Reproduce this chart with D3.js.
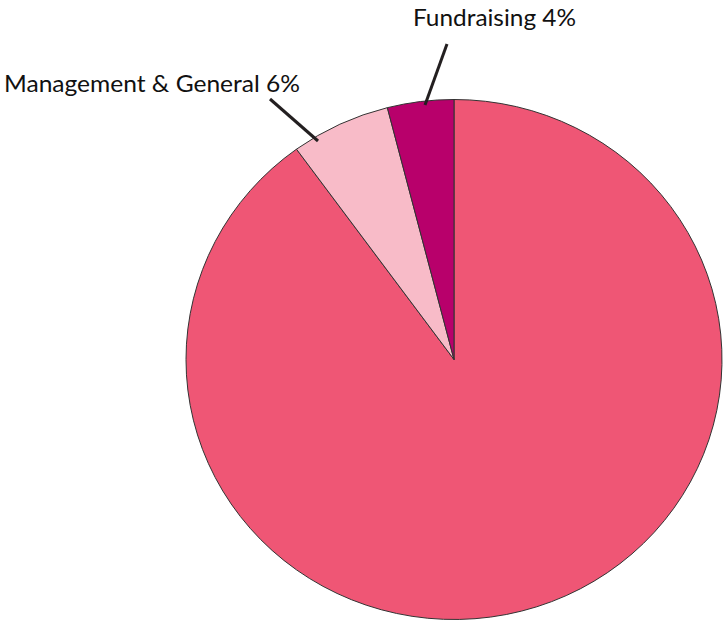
<!DOCTYPE html>
<html>
<head>
<meta charset="utf-8">
<script src="https://cdn.jsdelivr.net/npm/d3@7"></script>
<style>
  html, body { margin: 0; padding: 0; background: #fff; }
  .slice-label { font-family: Lato, "Open Sans", sans-serif; font-size: 24px; fill: #111; }
</style>
</head>
<body>
<svg id="chart" width="726" height="622"></svg>
<script>
// Expense breakdown (clockwise from 12 o'clock)
const categories = ["Program Services", "Management & General", "Fundraising"];
const shares = [90, 6, 4];
const labels = ["", "Management & General 6%", "Fundraising 4%"];
const colors = ["#ef5675", "#f8bbc8", "#b8006b"];

const svg = d3.select("#chart");
const cx = 454, cy = 359.5;
const ry = 260, rx = 268;

const data = categories.map((c, i) => ({ name: c, value: shares[i], label: labels[i], color: colors[i] }));

const pie = d3.pie().sort(null).value(d => d.value);
const arcs = pie(data);

const arc = d3.arc().innerRadius(0).outerRadius(ry);

// pie is drawn slightly wider than tall, like the original
const g = svg.append("g")
  .attr("transform", `translate(${cx},${cy}) scale(${rx / ry},1)`);

g.selectAll("path")
  .data(arcs)
  .join("path")
  .attr("d", arc)
  .attr("fill", d => d.data.color)
  .attr("stroke", "#333")
  .attr("stroke-width", 1)
  .attr("vector-effect", "non-scaling-stroke");

// Leader lines + labels for the small slices
const callouts = [
  { name: "Management & General", from: [270, 99], to: [318, 141], tx: 4, ty: 92, w: 296 },
  { name: "Fundraising", from: [447, 44], to: [425, 105], tx: 413, ty: 26, w: 163 }
];

svg.append("g")
  .selectAll("line")
  .data(callouts)
  .join("line")
  .attr("x1", d => d.from[0]).attr("y1", d => d.from[1])
  .attr("x2", d => d.to[0]).attr("y2", d => d.to[1])
  .attr("stroke", "#231f20")
  .attr("stroke-width", 3);

svg.append("g")
  .selectAll("text")
  .data(callouts)
  .join("text")
  .attr("class", "slice-label")
  .attr("x", d => d.tx)
  .attr("y", d => d.ty)
  .attr("textLength", d => d.w)
  .attr("lengthAdjust", "spacingAndGlyphs")
  .text(d => data.find(e => e.name === d.name).label);
</script>
</body>
</html>
